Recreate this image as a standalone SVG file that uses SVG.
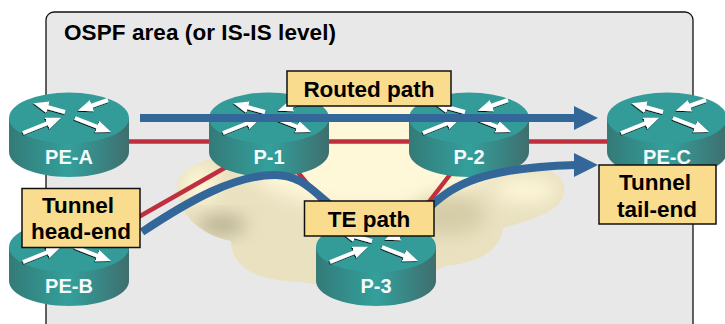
<svg xmlns="http://www.w3.org/2000/svg" xmlns:xlink="http://www.w3.org/1999/xlink" width="725" height="324" viewBox="0 0 725 324">
<style>
text{font-family:"Liberation Sans",Arial,sans-serif;font-weight:bold}
.lbl{font-size:22.5px;fill:#000;text-anchor:middle}
.rname{font-size:20px;fill:#f4fbfa;text-anchor:middle}
.box{fill:#fadc8e;stroke:#111;stroke-width:1.5}
.red{fill:none;stroke:#bf2f3e;stroke-width:4.5}
.blue{fill:none;stroke:#336699;stroke-width:8}
.bluehead{fill:#336699}
.arw{stroke:#fff;stroke-width:4;marker-end:url(#wh)}
</style>
<defs>
<linearGradient id="body" x1="0" x2="1" y1="0" y2="0">
<stop offset="0" stop-color="#347a78"/><stop offset=".5" stop-color="#33a09c"/><stop offset="1" stop-color="#3f6e6e"/>
</linearGradient>
<marker id="wh" markerUnits="userSpaceOnUse" markerWidth="16" markerHeight="14" refX="1" refY="7" orient="auto" viewBox="0 0 16 14">
<path d="M0 1L15 7L0 13Z" fill="#fff"/>
</marker>
<filter id="sh" x="-20%" y="-20%" width="140%" height="140%"><feDropShadow dx="-.6" dy="1" stdDeviation=".3" flood-color="#000" flood-opacity=".9"/></filter>
<filter id="bl" x="-60%" y="-60%" width="220%" height="220%"><feGaussianBlur stdDeviation="9"/></filter>
<clipPath id="cc"><path d="M177 190C175 175 190 163 215 158L320 104L420 104L470 172L530 170C555 168 566 178 564 192C562 208 545 216 503 228C500 250 482 262 445 266L436 270L400 274L330 286L300 282C255 280 232 268 231 241C200 235 180 215 177 190Z"/></clipPath>
<g id="router">
<path d="M-60 0V34C-60 48 -33 59 0 59S60 48 60 34V0Z" fill="url(#body)"/>
<ellipse cx="0" cy="0" rx="60" ry="25.500" fill="#339b98"/>
<g filter="url(#sh)">
<line class="arw" x1="-4" y1="-6" x2="-22" y2="-11"/>
<line class="arw" x1="39" y1="-18" x2="22" y2="-12"/>
<line class="arw" x1="-46" y1="15" x2="-21" y2="5"/>
<line class="arw" x1="6" y1="0" x2="29" y2="9"/>
</g>
</g>
</defs>
<rect id="area" x="46" y="12" width="647" height="340" rx="8" fill="#e8e8e8" stroke="#111" stroke-width="1.3"/>
<text x="64" y="40" font-size="22.500" fill="#000" textLength="272">OSPF area (or IS-IS level)</text>
<g id="cloud">
<g clip-path="url(#cc)">
<rect x="170" y="100" width="400" height="190" fill="#e9e1c0"/>
<ellipse cx="370" cy="150" rx="130" ry="60" fill="#fef7d8" filter="url(#bl)"/>
<ellipse cx="525" cy="190" rx="32" ry="12" fill="#fef7d8" filter="url(#bl)"/>
<ellipse cx="200" cy="185" rx="18" ry="18" fill="#fef7d8" filter="url(#bl)"/>
<ellipse cx="222" cy="225" rx="24" ry="9" fill="#b1aa8c" filter="url(#bl)"/>
<ellipse cx="450" cy="215" rx="35" ry="20" fill="#d5cca8" filter="url(#bl)"/>
</g>
</g>
<g id="connectors-red">
<line class="red" x1="120" y1="141.500" x2="620" y2="141.500"/>
<line class="red" x1="135" y1="219" x2="228" y2="166"/>
<line class="red" x1="296" y1="170" x2="325" y2="205"/>
<line class="red" x1="452" y1="172" x2="425" y2="207"/>
</g>
<g id="PE-A"><use xlink:href="#router" href="#router" x="69" y="118"/><text class="rname" x="69" y="164">PE-A</text></g>
<g id="P-1"><use xlink:href="#router" href="#router" x="269" y="118"/><text class="rname" x="269" y="164">P-1</text></g>
<g id="P-2"><use xlink:href="#router" href="#router" x="469" y="118"/><text class="rname" x="469" y="164">P-2</text></g>
<g id="PE-C"><use xlink:href="#router" href="#router" x="667" y="118"/><text class="rname" x="667" y="164">PE-C</text></g>
<g id="PE-B"><use xlink:href="#router" href="#router" x="69" y="247"/><text class="rname" x="69" y="293">PE-B</text></g>
<g id="P-3"><use xlink:href="#router" href="#router" x="376" y="247"/><text class="rname" x="376" y="293">P-3</text></g>
<g id="connectors-blue">
<line class="blue" x1="140" y1="118" x2="575" y2="118"/>
<path class="bluehead" d="M574 106L598 118L574 130Z"/>
<path class="blue" d="M142 232C190 200 235 175 275 175C310 175 320 205 352 218C385 230 410 222 432 205C455 185 480 168 576 165"/>
<path class="bluehead" d="M574 153L598 165L574 177Z"/>
</g>
<g id="label-routed"><rect class="box" x="287" y="71" width="164" height="35"/><text class="lbl" x="369" y="97">Routed path</text></g>
<g id="label-head"><rect class="box" x="22" y="188.500" width="118" height="59"/><text class="lbl" x="78" y="212.500">Tunnel</text><text class="lbl" x="81" y="239">head-end</text></g>
<g id="label-te"><rect class="box" x="304.500" y="201" width="129.500" height="35"/><text class="lbl" x="369" y="227">TE path</text></g>
<g id="label-tail"><rect class="box" x="599" y="165" width="117" height="59"/><text class="lbl" x="655" y="190">Tunnel</text><text class="lbl" x="657" y="217">tail-end</text></g>
</svg>
